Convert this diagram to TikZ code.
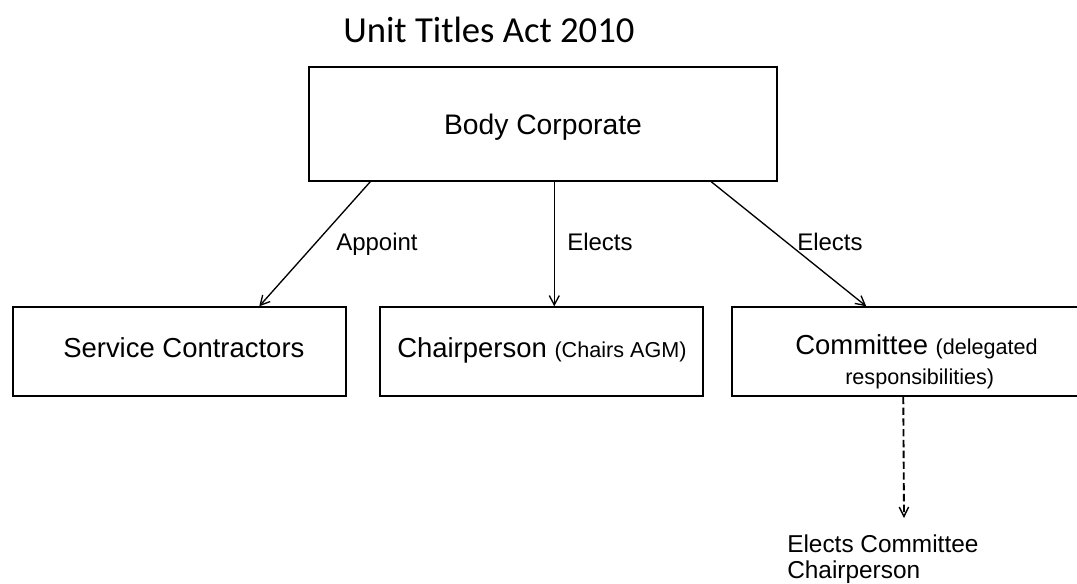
\documentclass[tikz,border=0pt]{standalone}
\usepackage{fontspec}
\setmainfont{Liberation Sans}
\newfontfamily\titlefont{Carlito}
\usetikzlibrary{arrows.meta,fit,calc}
\begin{document}
\begin{tikzpicture}[x=0.75pt,y=-0.75pt,
  box/.style={draw=black,line width=1.1pt,inner sep=0pt,fill=none},
  txt/.style={inner sep=0pt,anchor=base west,font=\fontsize{20.6}{24}\selectfont},
  lbl/.style={inner sep=0pt,anchor=base west,font=\fontsize{18}{21}\selectfont},
  conn/.style={line width=1pt,-{Straight Barb[length=7pt,width=7.5pt,line width=1pt]}},
  dashconn/.style={line width=1.4pt,dash pattern=on 5.5pt off 2.6pt,-{Straight Barb[length=7pt,width=7pt,line width=1.1pt]}}]
\useasboundingbox (0,0) rectangle (1077,583);
% title
\node[inner sep=0pt,anchor=base west,font=\titlefont\fontsize{27.5}{32}\selectfont] (title) at (343,42) {Unit Titles Act 2010};
% boxes
\node[box,fit={(309,67) (777,181)}] (body) {};
\node[inner sep=0pt,font=\fontsize{21.2}{24}\selectfont] (bodytxt) at (543,127) {Body Corporate};
\node[box,fit={(13,307) (346,396)}] (service) {};
\node[box,fit={(380,307) (703,396)}] (chair) {};
\node[box,fit={(732,307) (1082,396)}] (committee) {};
\node[txt] (servicetxt) at (63,357) {Service Contractors};
\node[txt] (chairtxt) at (397,357) {Chairperson {\fontsize{16.2}{19}\selectfont(Chairs AGM)}};
\node[txt] (comtxt) at (795,354) {Committee {\fontsize{16.2}{19}\selectfont(delegated}};
\node[inner sep=0pt,anchor=base west,font=\fontsize{16.2}{19}\selectfont] (comtxt2) at (845,384) {responsibilities)};
% connectors
\draw[conn] ([xshift=46.5pt]body.south west) -- ([xshift=185.25pt]service.north west);
\draw[conn] ([xshift=184.5pt]body.south west) -- ([xshift=131.25pt]chair.north west);
\draw[conn] ([xshift=302.25pt]body.south west) -- ([xshift=101.25pt]committee.north west);
\node[lbl] (l1) at (336,250) {Appoint};
\node[lbl] (l2) at (567,250) {Elects};
\node[lbl] (l3) at (797,250) {Elects};
% dashed connector
\coordinate (dend) at (904,518);
\draw[dashconn] ([xshift=129pt]committee.south west) -- (dend);
\node[inner sep=0pt,anchor=north west,align=left,font=\fontsize{18.3}{19.5}\selectfont] (ecc) at (787,535) {Elects Committee\\Chairperson};
\end{tikzpicture}
\end{document}
